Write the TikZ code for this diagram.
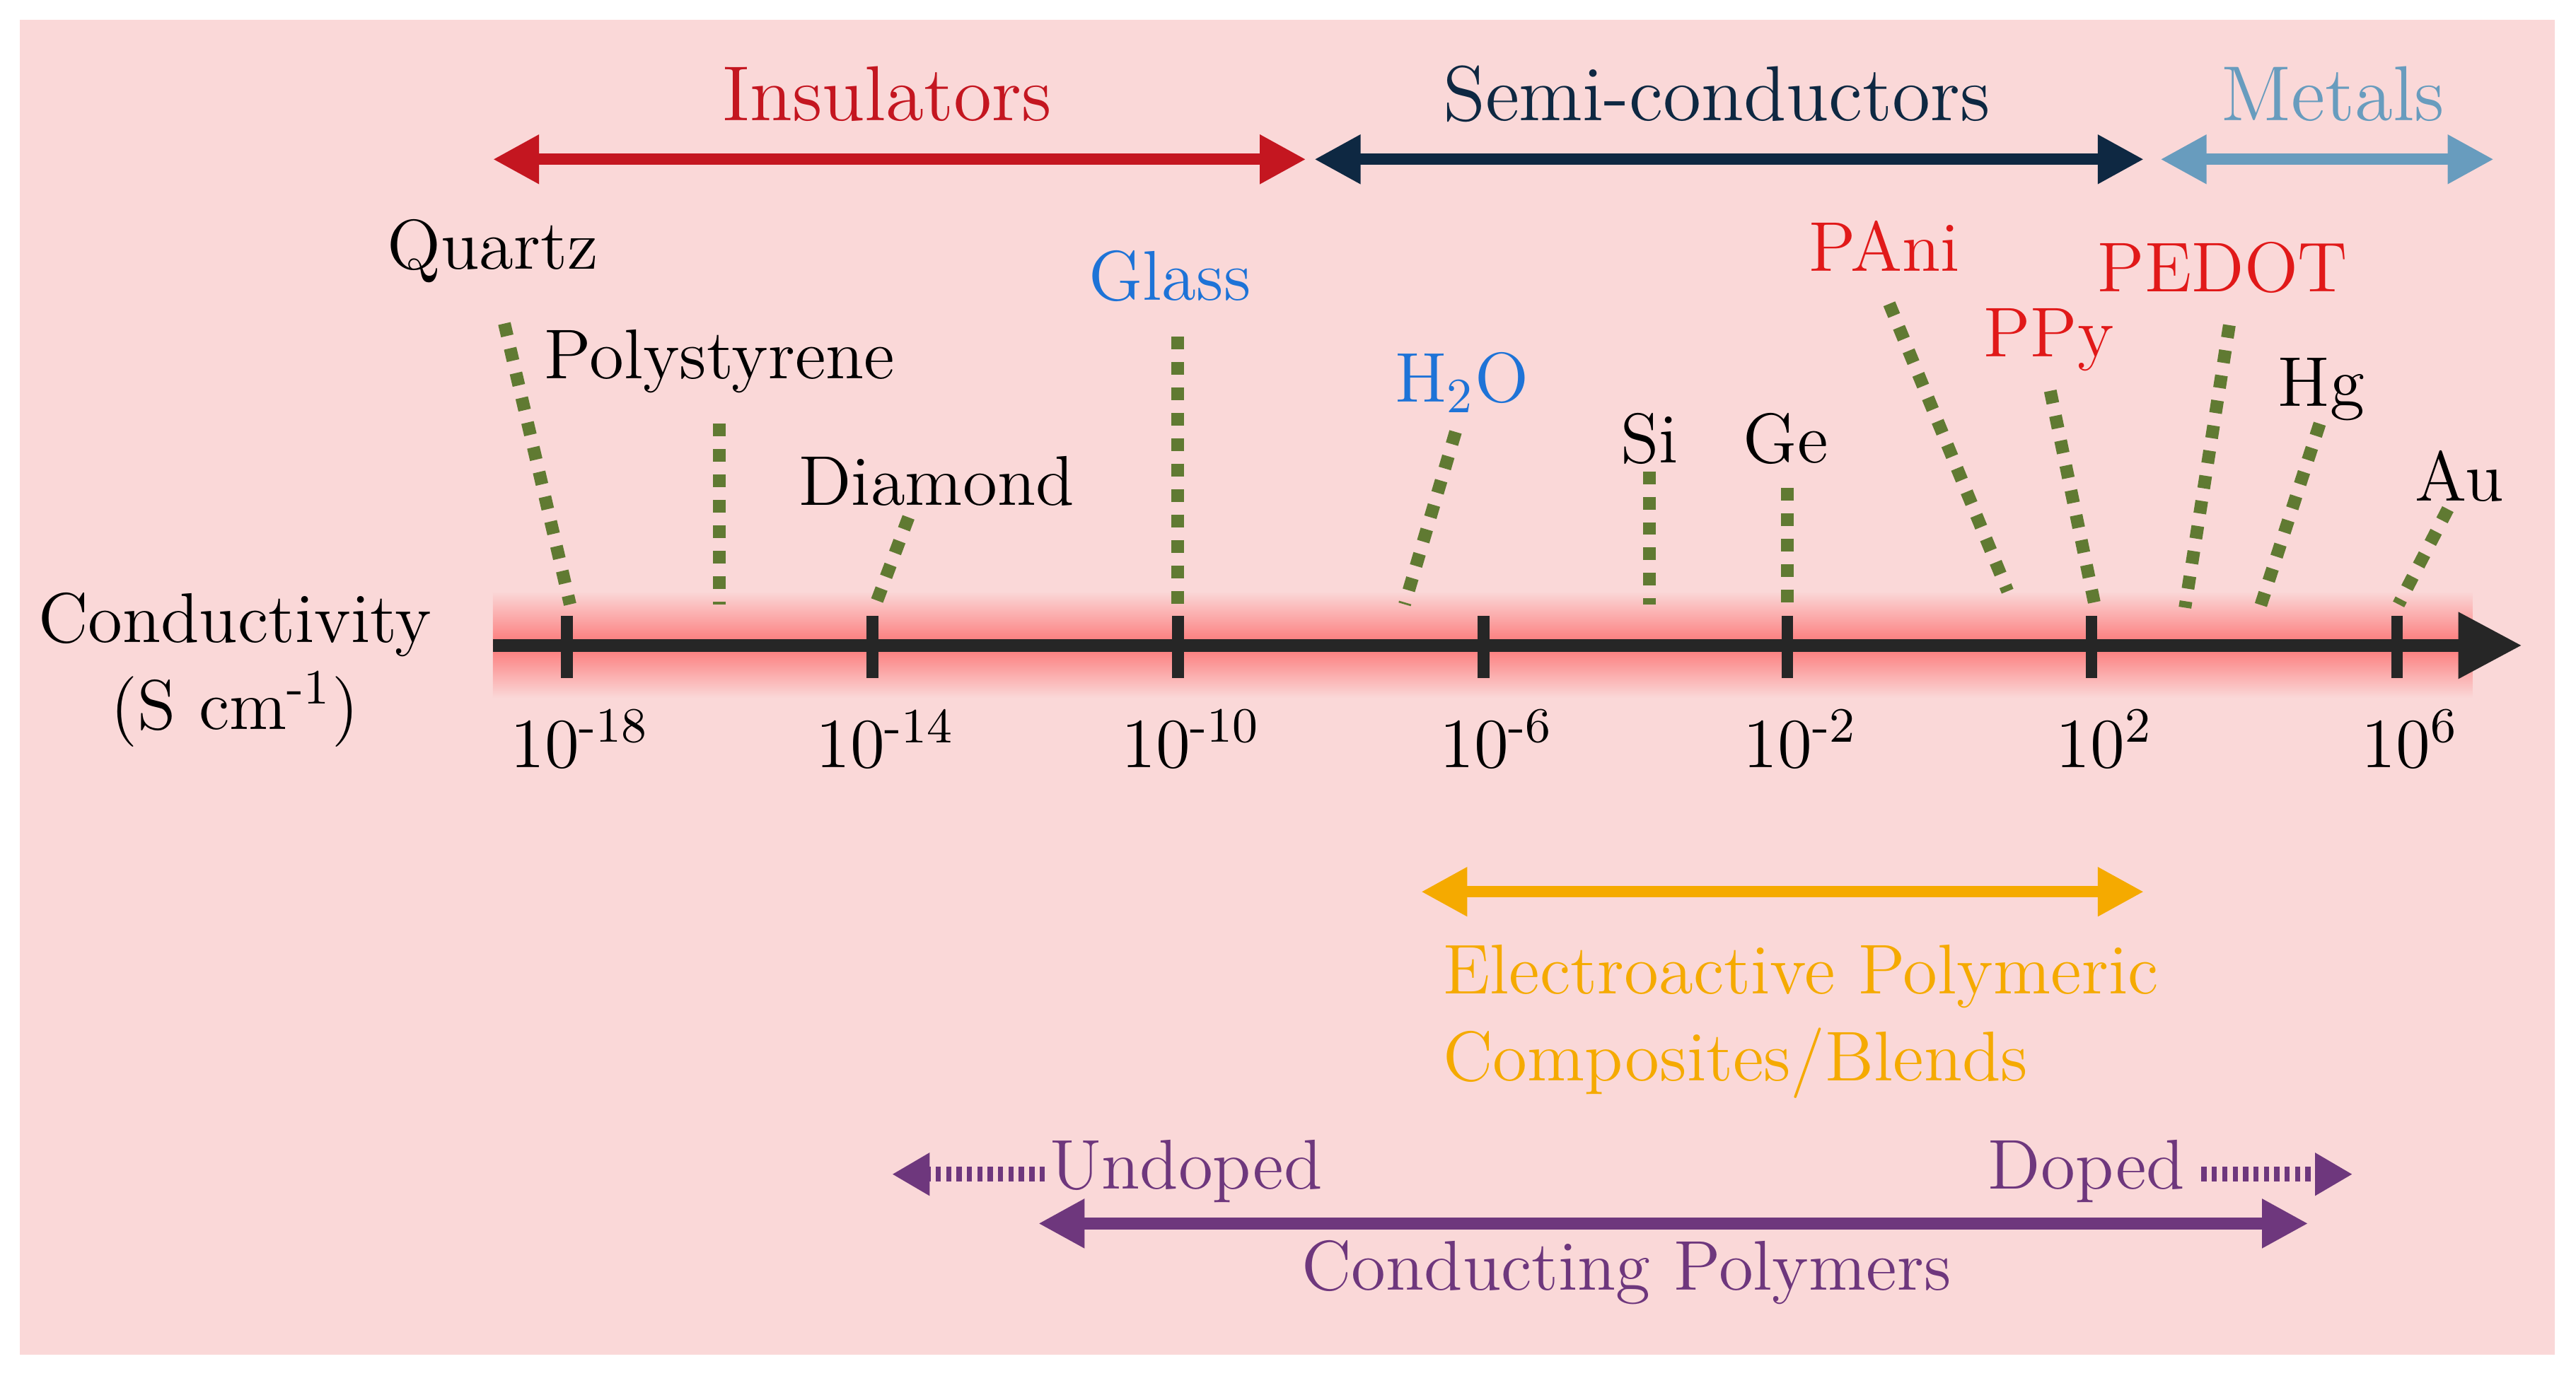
\documentclass[tikz,border=0pt]{standalone}
\usetikzlibrary{arrows.meta}
\definecolor{bgp}{RGB}{250,216,216}
\definecolor{ins}{RGB}{196,22,32}
\definecolor{semi}{RGB}{14,40,66}
\definecolor{met}{RGB}{104,156,190}
\definecolor{dgreen}{RGB}{96,122,50}
\definecolor{lblue}{RGB}{30,115,215}
\definecolor{pred}{RGB}{225,25,25}
\definecolor{orng}{RGB}{245,170,0}
\definecolor{purp}{RGB}{110,55,125}
\begin{document}
\begin{tikzpicture}[x=0.01cm,y=-0.01cm,
  lab/.style={font=\fontsize{12.2}{15}\selectfont},
  big/.style={font=\fontsize{13.5}{16}\selectfont},
  dl/.style={dgreen,line width=2.2pt,dash pattern=on 2.2pt off 2.2pt},
  rng/.style={line width=2pt,{Triangle[length=8pt,width=8pt]}-{Triangle[length=8pt,width=8pt]}},
  dot/.style={purp,line width=2.6pt,dash pattern=on 0.9pt off 0.9pt,-{Triangle[length=6.5pt,width=7pt]}},
  tk/.style={line width=2pt,black!85}]
\useasboundingbox (0,0) rectangle (1568,842);
\fill[bgp] (12,12) rectangle (1555,825);
% glow band
\shade[top color=bgp,bottom color=red!45!bgp,draw=none] (300,360) rectangle (1505,393);
\shade[top color=red!45!bgp,bottom color=bgp,draw=none] (300,393) rectangle (1505,425);
% axis
\coordinate (a0) at (300,393); \coordinate (a1) at (1535,393);
\draw[line width=2.2pt,black!85,-{Triangle[length=11pt,width=11pt]}] (a0) -- (a1);
\foreach \x/\e in {345/-18,531/-14,717/-10,903/-6,1088/-2,1273/2,1459/6}{
  \draw[tk] (\x,375) -- (\x,413);
  \node[lab] (t\x) at (\x+8,450) {10\textsuperscript{\e}};}
\node[lab,align=center] (cond) at (143,408) {Conductivity\\(S cm\textsuperscript{-1})};
% ranges
\coordinate (i0) at (300,97); \coordinate (i1) at (795,97);
\draw[rng,ins] (i0) -- (i1);
\node[big,ins] (insl) at (540,57) {Insulators};
\coordinate (s0) at (800,97); \coordinate (s1) at (1305,97);
\draw[rng,semi] (s0) -- (s1);
\node[big,semi] (semil) at (1045,57) {Semi-conductors};
\coordinate (m0) at (1315,97); \coordinate (m1) at (1518,97);
\draw[rng,met] (m0) -- (m1);
\node[big,met] (metl) at (1420,57) {Metals};
% materials
\node[lab] (quartz) at (300,153) {Quartz};
\draw[dl] (307,197) -- (347,368);
\node[lab] (poly) at (438,220) {Polystyrene};
\draw[dl] (438,258) -- (438,368);
\node[lab] (dia) at (570,293) {Diamond};
\draw[dl] (553,315) -- (533,368);
\node[lab,lblue] (glass) at (712,168) {Glass};
\draw[dl] (717,205) -- (717,368);
\node[lab,lblue] (h2o) at (890,233) {H\textsubscript{2}O};
\draw[dl] (886,263) -- (855,368);
\node[lab] (si) at (1004,267) {Si};
\draw[dl] (1004,287) -- (1004,368);
\node[lab] (ge) at (1087,267) {Ge};
\draw[dl] (1088,297) -- (1088,368);
\node[lab,pred] (pani) at (1147,150) {PAni};
\draw[dl] (1150,185) -- (1222,360);
\node[lab,pred] (ppy) at (1247,207) {PPy};
\draw[dl] (1248,238) -- (1275,368);
\node[lab,pred] (pedot) at (1353,163) {PEDOT};
\draw[dl] (1357,198) -- (1330,370);
\node[lab] (hg) at (1413,237) {Hg};
\draw[dl] (1412,258) -- (1375,372);
\node[lab] (au) at (1497,290) {Au};
\draw[dl] (1490,310) -- (1460,368);
% electroactive
\coordinate (e0) at (865,543); \coordinate (e1) at (1305,543);
\draw[rng,orng] (e0) -- (e1);
\node[lab,orng,align=left,anchor=north west] (elec) at (866,563) {Electroactive Polymeric\\Composites/Blends};
% conducting polymers
\node[lab,purp] (und) at (722,713) {Undoped};
\node[lab,purp] (dop) at (1270,713) {Doped};
\coordinate (u0) at (636,715); \coordinate (u1) at (543,715);
\draw[dot] (u0) -- (u1);
\coordinate (d0) at (1340,715); \coordinate (d1) at (1432,715);
\draw[dot] (d0) -- (d1);
\coordinate (c0) at (632,745); \coordinate (c1) at (1405,745);
\draw[rng,purp] (c0) -- (c1);
\node[lab,purp] (cp) at (990,775) {Conducting Polymers};
\end{tikzpicture}
\end{document}
